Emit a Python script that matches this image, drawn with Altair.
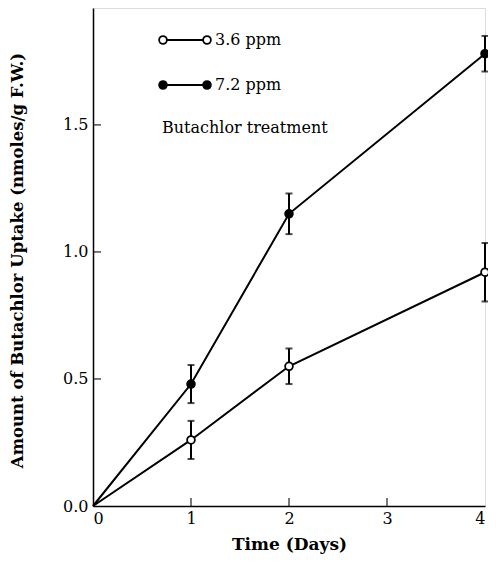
import altair as alt
import pandas as pd

days = [0, 1, 2, 4]
low_vals = [0.0, 0.26, 0.55, 0.92]
low_err = [0.0, 0.075, 0.07, 0.115]
high_vals = [0.0, 0.48, 1.15, 1.78]
high_err = [0.0, 0.075, 0.08, 0.07]
x_ticks = [1, 2, 3]
y_ticks = [0.5, 1.0, 1.5]

rows = []
for d, v, e in zip(days, low_vals, low_err):
    rows.append({"day": d, "val": v, "lo": v - e, "hi": v + e, "series": "3.6 ppm"})
for d, v, e in zip(days, high_vals, high_err):
    rows.append({"day": d, "val": v, "lo": v - e, "hi": v + e, "series": "7.2 ppm"})
df = pd.DataFrame(rows)
err_df = df[df["day"] > 0]

W, H = 392, 498
FONT = "DejaVu Serif"
FS = 16

xs = alt.Scale(domain=[0, 4], nice=False)
ys = alt.Scale(domain=[0, 1.96], nice=False)

xax = alt.Axis(values=[0, 1, 2, 3, 4], format="d", ticks=False, grid=False,
               domainColor="black", domainWidth=1.5, labelFont=FONT, labelFontSize=FS,
               labelColor="black", labelPadding=4, title="Time (Days)",
               titleFont=FONT, titleFontSize=17, titleFontWeight="bold",
               titleColor="black", titlePadding=10)
yax = alt.Axis(values=[0, 0.5, 1.0, 1.5], format=".1f", ticks=False, grid=False,
               domainColor="black", domainWidth=1.5, labelFont=FONT, labelFontSize=FS,
               labelColor="black", labelPadding=5,
               title="Amount of Butachlor Uptake (nmoles/g F.W.)",
               titleFont=FONT, titleFontSize=16.5, titleFontWeight="bold",
               titleColor="black", titlePadding=37, titleY=252)

base = alt.Chart(df)

lines = base.mark_line(color="black", strokeWidth=2).encode(
    x=alt.X("day:Q", scale=xs, axis=xax),
    y=alt.Y("val:Q", scale=ys, axis=yax),
    detail="series:N",
)

errs = alt.Chart(err_df).mark_rule(color="black", strokeWidth=2).encode(
    x=alt.X("day:Q", scale=xs), y=alt.Y("lo:Q", scale=ys), y2="hi:Q")
cap_lo = alt.Chart(err_df).mark_tick(color="black", orient="horizontal", size=7, thickness=2).encode(
    x=alt.X("day:Q", scale=xs), y=alt.Y("lo:Q", scale=ys))
cap_hi = alt.Chart(err_df).mark_tick(color="black", orient="horizontal", size=7, thickness=2).encode(
    x=alt.X("day:Q", scale=xs), y=alt.Y("hi:Q", scale=ys))

pts = alt.Chart(err_df).mark_point(filled=True, size=60, stroke="black", strokeWidth=1.8, opacity=1).encode(
    x=alt.X("day:Q", scale=xs), y=alt.Y("val:Q", scale=ys),
    fill=alt.Fill("series:N", scale=alt.Scale(domain=["3.6 ppm", "7.2 ppm"], range=["white", "black"]), legend=None),
)

xt = alt.Chart(pd.DataFrame({"t": x_ticks})).mark_tick(color="black", orient="vertical", size=8, thickness=1.5).encode(
    x=alt.X("t:Q", scale=xs), y=alt.value(H - 4))
yt = alt.Chart(pd.DataFrame({"t": y_ticks})).mark_tick(color="black", orient="horizontal", size=8, thickness=1.5).encode(
    y=alt.Y("t:Q", scale=ys), x=alt.value(4))

# legend
leg_line1 = alt.Chart(df).mark_rule(color="black", strokeWidth=1.5).encode(
    x=alt.value(70), x2=alt.value(114), y=alt.value(32))
leg_line2 = alt.Chart(df).mark_rule(color="black", strokeWidth=1.5).encode(
    x=alt.value(70), x2=alt.value(114), y=alt.value(77))
leg_pts = alt.Chart(pd.DataFrame({"px": [70, 114, 70, 114], "py": [32, 32, 77, 77],
                                  "f": ["white", "white", "black", "black"]})).mark_point(
    filled=True, size=60, stroke="black", strokeWidth=1.8, opacity=1).encode(
    x=alt.X("px:Q", scale=None), y=alt.Y("py:Q", scale=None), fill=alt.Fill("f:N", scale=None))
leg_txt = alt.Chart(pd.DataFrame({"px": [122, 122, 69], "py": [32, 77, 120],
                                  "s": ["3.6 ppm", "7.2 ppm", "Butachlor treatment"]})).mark_text(
    align="left", baseline="middle", font=FONT, fontSize=FS, color="black").encode(
    x=alt.X("px:Q", scale=None), y=alt.Y("py:Q", scale=None), text="s:N")

chart = alt.layer(lines, errs, cap_lo, cap_hi, pts, xt, yt,
                  leg_line1, leg_line2, leg_pts, leg_txt).properties(
    width=W, height=H,
    autosize=alt.AutoSizeParams(type="none"),
    padding={"left": 85, "top": 0, "right": 3, "bottom": 53},
).configure_view(stroke="black", strokeWidth=1.5).configure(background="white")

chart.save("out.html", embed_options={"renderer": "svg", "actions": False})
